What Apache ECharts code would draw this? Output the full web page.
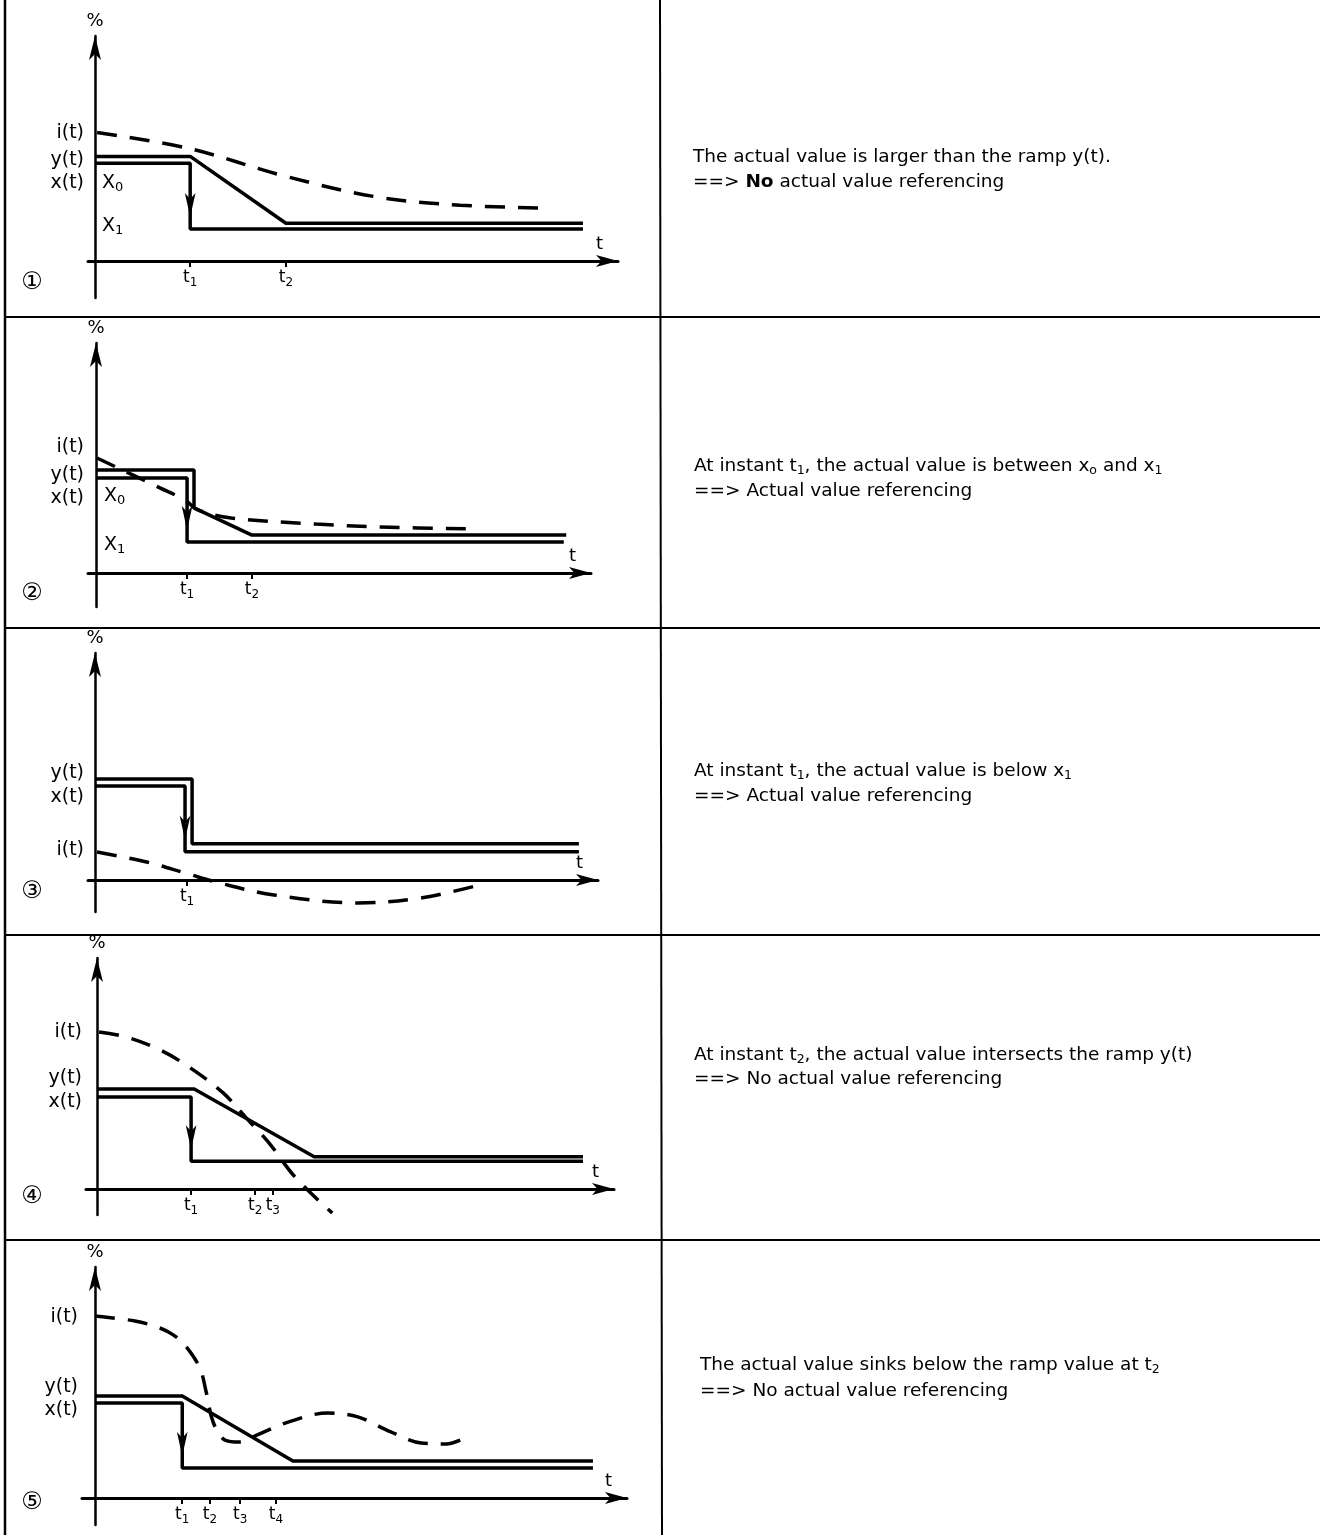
<!DOCTYPE html>
<html><head><meta charset="utf-8">
<script src="https://cdn.jsdelivr.net/npm/echarts@6/dist/echarts.min.js"></script>
<style>html,body{margin:0;padding:0;background:#fff}#c{width:1328px;height:1535px}</style>
</head><body><div id="c"></div>
<script>
// ---------- DATA (t in % of time axis, value in %) ----------
// Panel 1
const p1_y = [[0,46.5],[18.2,46.5],[36.5,16.8],[93.3,16.8]];
const p1_x = [[0,43.4],[18.2,43.4],[18.2,14.2],[93.3,14.2]];
const p1_i = [[0.4,57.1],[18,50],[36.5,37.6],[54.3,28.3],[69.8,24.8],[86.8,23.5]];
const p1_ticks = [18.2, 36.5];
const p1_tickSubs = ['1','2'];
const p1_labelVals = [57, 45, 34.5];
const p1_labelNames = ['i(t)','y(t)','x(t)'];
// Panel 2
const p2_y = [[0,44.8],[19.8,44.8],[19.8,28.3],[31.5,16.5],[95,16.5]];
const p2_x = [[0,41.3],[18.4,41.3],[18.4,13.5],[94.5,13.5]];
const p2_i = [[0.2,50],[12.9,37],[18,31.7],[20.6,27.4],[27.3,23.9],[44.4,21.3],[57.2,20],[77.2,19.1]];
const p2_ticks = [18.4, 31.5];
const p2_tickSubs = ['1','2'];
const p2_labelVals = [54.8, 42.6, 32.6];
const p2_labelNames = ['i(t)','y(t)','x(t)'];
// Panel 3
const p3_y = [[0,44.5],[19.3,44.5],[19.3,16],[96.2,16]];
const p3_x = [[0,41.4],[17.9,41.4],[17.9,12.4],[96.2,12.4]];
const p3_i = [[0.4,12.3],[10.3,7.9],[17.9,3.1],[24.7,-1.3],[35.6,-6.6],[52.3,-10.1],[64.8,-7.9],[75.7,-2.6]];
const p3_ticks = [18.3];
const p3_tickSubs = ['1'];
const p3_labelVals = [47.1, 36.6, 13.2];
const p3_labelNames = ['y(t)','x(t)','i(t)'];
// Panel 4
const p4_y = [[0,43.3],[18.8,43.3],[42,14],[94,14]];
const p4_x = [[0,39.8],[18.2,39.8],[18.2,12],[94,12]];
const p4_i = [[0.4,68],[5.6,65.8],[12.2,60.2],[17.8,52.8],[24.4,41.6],[29.2,29.9],[33.3,19.9],[38.3,5.2],[45.5,-10.4]];
const p4_ticks = [18.2, 30.6, 34];
const p4_tickSubs = ['1','2','3'];
const p4_labelVals = [68, 48, 37.7];
const p4_labelNames = ['i(t)','y(t)','x(t)'];
// Panel 5
const p5_y = [[0,44.2],[16.4,44.2],[37.2,16],[93.6,16]];
const p5_x = [[0,41.1],[16.4,41.1],[16.4,13],[93.6,13]];
const p5_i = [[0,78.8],[7.5,76.6],[12.2,73.6],[14.7,70.6],[16.9,66.2],[19.7,56.3],[20.9,45.9],[22.2,32.9],[24.4,25.1],[27.3,24.2],[30.5,27.3],[35.9,32.5],[43.8,36.8],[49.4,35.1],[55.6,28.6],[61.3,23.8],[66,23.4],[70.7,27.3]];
const p5_ticks = [16.4, 21.6, 27.3, 34];
const p5_tickSubs = ['1','2','3','4'];
const p5_labelVals = [78.4, 48, 38.1];
const p5_labelNames = ['i(t)','y(t)','x(t)'];

const panelNums = ['①','②','③','④','⑤'];

// ---------- LAYOUT ----------
const layouts = [
  {ox:95, oy:261, tipX:618, tipY:36, leftX:88, botY:298},
  {ox:96, oy:573, tipX:591, tipY:343, leftX:88, botY:607},
  {ox:95, oy:880, tipX:598, tipY:653, leftX:88, botY:912},
  {ox:97, oy:1189, tipX:614, tipY:958, leftX:86, botY:1215},
  {ox:95, oy:1498, tipX:627, tipY:1267, leftX:82, botY:1525}
];

const panels = [
  {y:p1_y,x:p1_x,i:p1_i,ticks:p1_ticks,subs:p1_tickSubs,lv:p1_labelVals,ln:p1_labelNames},
  {y:p2_y,x:p2_x,i:p2_i,ticks:p2_ticks,subs:p2_tickSubs,lv:p2_labelVals,ln:p2_labelNames},
  {y:p3_y,x:p3_x,i:p3_i,ticks:p3_ticks,subs:p3_tickSubs,lv:p3_labelVals,ln:p3_labelNames},
  {y:p4_y,x:p4_x,i:p4_i,ticks:p4_ticks,subs:p4_tickSubs,lv:p4_labelVals,ln:p4_labelNames},
  {y:p5_y,x:p5_x,i:p5_i,ticks:p5_ticks,subs:p5_tickSubs,lv:p5_labelVals,ln:p5_labelNames}
];

const FONT = '"DejaVu Sans", "Liberation Sans", sans-serif';
const grids=[], xAxes=[], yAxes=[], series=[];
panels.forEach((p,k)=>{
  const L = layouts[k];
  grids.push({left:L.leftX, top:L.tipY, width:L.tipX-L.leftX, height:L.botY-L.tipY, containLabel:false, outerBoundsMode:'none'});
  xAxes.push({
    type:'value', gridIndex:k,
    min: -(L.ox-L.leftX)/(L.tipX-L.ox)*100, max:100,
    splitLine:{show:false},
    axisLine:{onZero:true, lineStyle:{color:'#000', width:3}, symbol:['none','arrow'], symbolSize:[9,22]},
    axisTick:{show:true, customValues:p.ticks, length:6, lineStyle:{color:'#000', width:2}},
    axisLabel:{show:true, hideOverlap:false, customValues:p.ticks, margin:6-(L.botY-L.oy),
      formatter:(v)=>{ const idx=p.ticks.indexOf(v); return '{a|t}{b|'+(idx>=0?p.subs[idx]:'')+'}'; },
      rich:{a:{fontSize:17, fontFamily:FONT, color:'#000'}, b:{fontSize:12, fontFamily:FONT, color:'#000', padding:[10,0,0,0]}}},
    name:'t', nameLocation:'end', nameGap:-22,
    nameTextStyle:{fontSize:18, fontFamily:FONT, color:'#000', verticalAlign:'bottom', padding:[0,0,8,0]}
  });
  yAxes.push({
    type:'value', gridIndex:k,
    min: -(L.botY-L.oy)/(L.oy-L.tipY)*100, max:100,
    splitLine:{show:false},
    axisLine:{onZero:true, lineStyle:{color:'#000', width:2.5}, symbol:['none','arrow'], symbolSize:[9,24]},
    axisTick:{show:false},
    axisLabel:{show:true, hideOverlap:false, customValues:p.lv, margin:4, color:'#000', fontSize:19, fontFamily:FONT,
      formatter:(v)=>{ const idx=p.lv.indexOf(v); return idx>=0?p.ln[idx]:''; }},
    name:'%', nameLocation:'end', nameGap:6,
    nameTextStyle:{fontSize:18, fontFamily:FONT, color:'#000'}
  });
  const base = {type:'line', xAxisIndex:k, yAxisIndex:k, showSymbol:false, symbol:'none', silent:true, animation:false};
  series.push(Object.assign({}, base, {name:'i(t)', data:p.i, smooth:0.35,
    lineStyle:{color:'#000', width:3.5, type:[20,13]}}));
  series.push(Object.assign({}, base, {name:'y(t)', data:p.y, lineStyle:{color:'#000', width:3.5}}));
  series.push(Object.assign({}, base, {name:'x(t)', data:p.x, lineStyle:{color:'#000', width:3.5},
    markPoint:{silent:true, symbol:'arrow', symbolRotate:180, symbolSize:[8,24], symbolOffset:[0,-12],
      itemStyle:{color:'#000'}, label:{show:false}, data:[{coord:p.x[2]}]}}));
});

// ---------- TEXT / FRAME ----------
const sub = {fontSize:12.5, fontFamily:FONT, fill:'#000', padding:[10,0,0,0]};
const nrm = {fontSize:18.5, fontFamily:FONT, fill:'#000'};
const bold = {fontSize:18.5, fontFamily:FONT, fill:'#000', fontWeight:'bold'};
function txt(x,y,text){
  return {type:'text', x:x, y:y, silent:true,
    style:{text:text, fill:'#000', font:'18px '+FONT, textVerticalAlign:'middle',
      rich:{n:nrm, s:sub, b:bold, X:{fontSize:19,fontFamily:FONT,fill:'#000'}, xs:{fontSize:13,fontFamily:FONT,fill:'#000',padding:[10,0,0,0]}}}};
}
function line(x1,y1,x2,y2,w){
  return {type:'line', silent:true, shape:{x1:x1,y1:y1,x2:x2,y2:y2}, style:{stroke:'#000', lineWidth:w||2}};
}
const graphic = [
  line(5,0,5,1535,2.5),
  line(660,0,662,1535,2),
  line(5,317,1320,317,2),
  line(5,628,1320,628,2),
  line(5,935,1320,935,2),
  line(5,1240,1320,1240,2),
  txt(693,157,'{n|The actual value is larger than the ramp y(t).}'),
  txt(693,182,'{n|==> }{b|No}{n| actual value referencing}'),
  txt(694,466,'{n|At instant t}{s|1}{n|, the actual value is between x}{s|o}{n| and x}{s|1}'),
  txt(694,491,'{n|==> Actual value referencing}'),
  txt(694,771,'{n|At instant t}{s|1}{n|, the actual value is below x}{s|1}'),
  txt(694,796,'{n|==> Actual value referencing}'),
  txt(694,1055,'{n|At instant t}{s|2}{n|, the actual value intersects the ramp y(t)}'),
  txt(694,1079,'{n|==> No actual value referencing}'),
  txt(700,1365,'{n|The actual value sinks below the ramp value at t}{s|2}'),
  txt(700,1391,'{n|==> No actual value referencing}'),
  txt(102,183,'{X|X}{xs|0}'),
  txt(102,226,'{X|X}{xs|1}'),
  txt(104,496,'{X|X}{xs|0}'),
  txt(104,545,'{X|X}{xs|1}')
];
const numY = [283, 594, 892, 1197, 1503];
numY.forEach((y,k)=>{
  graphic.push({type:'text', x:32, y:y, silent:true,
    style:{text:panelNums[k], font:'24px "DejaVu Sans", sans-serif', fill:'#000', textAlign:'center', textVerticalAlign:'middle'}});
});

const chart = echarts.init(document.getElementById('c'));
chart.setOption({
  backgroundColor:'#fff',
  animation:false,
  grid:grids, xAxis:xAxes, yAxis:yAxes, series:series, graphic:graphic
});
</script></body></html>
